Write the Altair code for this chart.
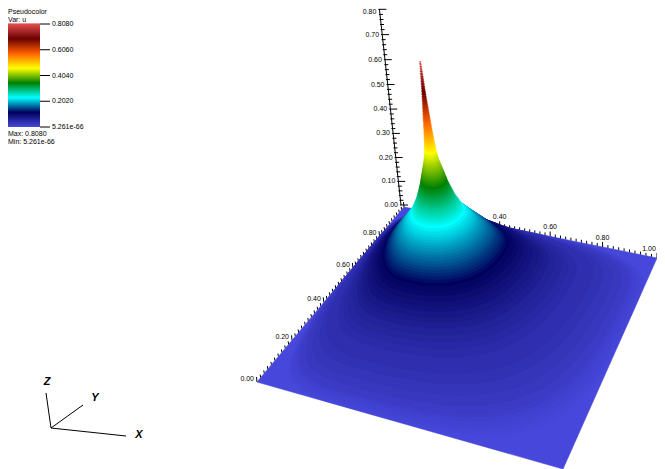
import altair as alt
import numpy as np
import pandas as pd

# Surface contours: value u and its radius r around the peak (plane units)
U_LEVELS = [0.002,0.004,0.006,0.008,0.012,0.016,0.020,0.025,0.030,0.035,0.040,0.045,0.050,0.055,0.060,0.066,0.072,0.078,0.084,0.090,0.096,0.102,0.108,0.115,
 0.121,0.127,0.133,0.139,0.145,0.151,0.157,0.163,0.169,0.175,0.181,0.187,0.193,0.199,0.205,0.211,0.217,0.224,0.231,
 0.238,0.245,0.252,0.259,0.266,0.273,0.280,0.287,0.294,0.301,0.308,0.315,0.322,0.329,0.336,0.346,
 0.353,0.360,0.367,0.374,0.381,0.388,0.395,0.402,0.409,0.416,0.423,0.430,0.437,0.444,0.452,0.462,
 0.467,0.472,0.477,0.482,0.487,0.492,0.497,0.502,0.507,0.512,0.517,0.522,0.527,0.532,0.537,0.542,0.547,0.552,0.557,0.562,0.569,0.577,
 0.583,0.590,0.596,0.603,0.609,0.616,0.622,0.629,0.635,0.642,0.648,0.655,0.661,0.668,0.674,0.681,0.687,0.693,
 0.699,0.706,0.712,0.719,0.725,0.732,0.738,0.745,0.751,0.758,0.764,0.771,0.777,0.784,0.790,0.797,0.802,0.808]
R_LEVELS = [4.5,3.6,3.0,2.6,2.2,2.0,1.85,1.6,1.35,1.15,1.0,0.80,0.72,0.66,0.60,0.55,0.51,0.48,0.44,0.41,0.38,0.35,0.325,0.30,
 0.29,0.277,0.264,0.252,0.24,0.229,0.218,0.207,0.197,0.187,0.177,0.167,0.158,0.150,0.142,0.134,0.126,0.117,0.108,
 0.102,0.098,0.094,0.090,0.085,0.080,0.076,0.073,0.070,0.067,0.064,0.061,0.058,0.056,0.053,0.050,
 0.048,0.046,0.044,0.042,0.040,0.038,0.036,0.034,0.032,0.030,0.028,0.027,0.025,0.024,0.023,0.0215,
 0.021,0.0205,0.020,0.0195,0.019,0.0185,0.018,0.0175,0.0171,0.0168,0.0164,0.016,0.0156,0.0152,0.0148,0.0145,0.0142,0.014,0.0137,0.0135,0.0133,0.013,
 0.0127,0.0122,0.0118,0.0115,0.0112,0.0108,0.0104,0.0100,0.0096,0.0092,0.0088,0.0085,0.0082,0.0078,0.0075,0.0072,0.0069,0.0066,
 0.0064,0.0062,0.006,0.0058,0.0056,0.0054,0.0052,0.005,0.0047,0.0045,0.0042,0.004,0.0037,0.0035,0.0032,0.003,0.0027,0.0025]
PEAK = (0.29, 0.735)

# Colour table
CMAP_U = [0.0, 0.1154, 0.2309, 0.3463, 0.4617, 0.5771, 0.6926, 0.808]
CMAP_C = ["#4747db", "#00005c", "#00ffff", "#008000", "#ffff00", "#ff6100", "#6b0000", "#e04d4d"]

# Axes
PLANE_X = [0, 1, 1, 0]
PLANE_Y = [0, 0, 1, 1]
CORNERS_PX = [(257, 382), (563, 469), (657, 258), (404, 207)]
Y_LABELS = ["0.00", "0.20", "0.40", "0.60", "0.80"]
Y_LABEL_AT = [0.0, 0.2, 0.4, 0.6, 0.8]
X_LABELS = ["0.40", "0.60", "0.80", "1.00"]
X_LABEL_AT = [0.4, 0.6, 0.8, 1.0]
Z_LABELS = ["0.00", "0.10", "0.20", "0.30", "0.40", "0.50", "0.60", "0.70", "0.80"]
Z_LABEL_AT = [0.0, 0.1, 0.2, 0.3, 0.4, 0.5, 0.6, 0.7, 0.8]

LEG_TICKS = ["0.8080", "0.6060", "0.4040", "0.2020", "5.261e-66"]
LEG_TICK_U = [0.808, 0.606, 0.404, 0.202, 0.0]
LEG_TEXT = ["Pseudocolor", "Var: u", "Max: 0.8080", "Min: 5.261e-66"]

# Homography plane -> picture
A = []
for (u_, v_), (px, py) in zip(zip(PLANE_X, PLANE_Y), CORNERS_PX):
    A.append([u_, v_, 1, 0, 0, 0, -u_ * px, -v_ * px, px])
    A.append([0, 0, 0, u_, v_, 1, -u_ * py, -v_ * py, py])
A = np.array(A, float)
h = np.linalg.solve(A[:, :8], A[:, 8])
H = np.append(h, 1).reshape(3, 3)

def plane(x, y):
    w = H[2, 0] * x + H[2, 1] * y + H[2, 2]
    return (H[0, 0] * x + H[0, 1] * y + H[0, 2]) / w, (H[1, 0] * x + H[1, 1] * y + H[1, 2]) / w

def lift(u):
    d = 257 * max(u - 0.03, 0)
    return -0.113 * d, -d

def edge_distance(c, s):
    """Smooth distance from the peak to the plane's border along direction (c, s)."""
    total = 0.0
    if c > 1e-9:
        total += (c / (1 - PEAK[0])) ** 4
    if c < -1e-9:
        total += (-c / PEAK[0]) ** 4
    if s > 1e-9:
        total += (s / (1 - PEAK[1])) ** 4
    if s < -1e-9:
        total += (-s / PEAK[1]) ** 4
    return total ** -0.25

rows = []
for i, (x, y) in enumerate(zip(PLANE_X, PLANE_Y)):
    px, py = plane(x, y)
    rows.append(dict(level=0, u=0.0, idx=i, px=px, py=py))
angles = np.linspace(0, 2 * np.pi, 96, endpoint=False)
for n, (u, r) in enumerate(zip(U_LEVELS, R_LEVELS), start=1):
    dx, dy = lift(u)
    for i, t in enumerate(angles):
        c, s = np.cos(t), np.sin(t)
        D = edge_distance(c, s)
        R = D * (1 - np.exp(-r / D))  # u falls to zero at the plane's border
        px, py = plane(PEAK[0] + R * c, PEAK[1] + R * s)
        rows.append(dict(level=n, u=u, idx=i, px=px + dx, py=py + dy))
surface = pd.DataFrame(rows)

X = alt.X("px:Q", axis=None, scale=alt.Scale(domain=[8, 657], nice=False, zero=False))
Y = alt.Y("py:Q", axis=None, scale=alt.Scale(domain=[8, 469], nice=False, zero=False, reverse=True))
X2 = alt.X2("px2:Q")
Y2 = alt.Y2("py2:Q")
cscale = alt.Scale(domain=CMAP_U, range=CMAP_C, interpolate="rgb")

surf = alt.Chart(surface).mark_line(interpolate="linear-closed", strokeWidth=0.6, fill="#4747db").encode(
    x=X, y=Y, detail="level:O", order="idx:Q",
    fill=alt.Fill("u:Q", scale=cscale, legend=None),
    stroke=alt.Stroke("u:Q", scale=cscale, legend=None),
)

# Ticks
ticks = []
texts = []
for k in range(0, 51):
    v = k / 50
    major = k % 10 == 0
    px, py = plane(0, v)
    ticks.append(dict(px=px, py=py, px2=px - 0.5, py2=py - (5 if major else 3)))
    if k >= 5:
        px, py = plane(v, 1)
        ticks.append(dict(px=px, py=py, px2=px, py2=py - (5 if major else 3)))
for k in range(0, 41):
    z = k * 0.02
    px = 401 - 27 * z
    py = 205 - 235 * z - 12 * z * z
    ticks.append(dict(px=px - 1, py=py, px2=px + (7 if k % 5 == 0 else 3), py2=py))
ticks.append(dict(px=401, py=205, px2=379.4, py2=9.0))
for lab, v in zip(Y_LABELS, Y_LABEL_AT):
    px, py = plane(0, v)
    texts.append(dict(px=px - 3, py=py - 3, t=lab, a="right"))
for lab, v in zip(X_LABELS, X_LABEL_AT):
    px, py = plane(v, 1)
    texts.append(dict(px=min(px, 649), py=py - 9, t=lab, a="center"))
for lab, z in zip(Z_LABELS, Z_LABEL_AT):
    px = 401 - 27 * z
    py = 205 - 235 * z - 12 * z * z
    texts.append(dict(px=px - 3, py=max(py, 12), t=lab, a="right"))

tick_df = pd.DataFrame(ticks)
tick_ch = alt.Chart(tick_df).mark_rule(color="black", strokeWidth=1).encode(x=X, y=Y, x2=X2, y2=Y2)
text_layers = []
for a in ["center", "right"]:
    sub = [t for t in texts if t["a"] == a]
    text_layers.append(alt.Chart(pd.DataFrame(sub)).mark_text(
        font="Liberation Sans", fontSize=7, align=a, baseline="middle", color="black"
    ).encode(x=X, y=Y, text="t:N"))

# Legend (the top-left page margin cannot be drawn on)
LEG_TOP, LEG_BOT = 24, 127
N = 103
cells = []
for i in range(N):
    cells.append(dict(px=8, px2=40,
                      py=LEG_BOT - (LEG_BOT - LEG_TOP) * i / N,
                      py2=LEG_BOT - (LEG_BOT - LEG_TOP) * (i + 1) / N - 0.6,
                      u=0.808 * (i + 0.5) / N))
bar = alt.Chart(pd.DataFrame(cells)).mark_rect(strokeWidth=0).encode(
    x=X, x2=X2, y=Y, y2=Y2, fill=alt.Fill("u:Q", scale=cscale, legend=None))
leg_ticks = []
leg_texts = []
for lab, u in zip(LEG_TICKS, LEG_TICK_U):
    py = LEG_BOT - (LEG_BOT - LEG_TOP) * u / 0.808
    leg_ticks.append(dict(px=40, px2=50, py=py, py2=py))
    leg_texts.append(dict(px=52, py=py, t=lab))
for lab, py in zip(LEG_TEXT, [12, 20, 134, 142]):
    leg_texts.append(dict(px=8, py=py, t=lab))
leg_tick = alt.Chart(pd.DataFrame(leg_ticks)).mark_rule(color="black", strokeWidth=1).encode(x=X, x2=X2, y=Y, y2=Y2)
leg_text = alt.Chart(pd.DataFrame(leg_texts)).mark_text(
    font="Liberation Sans", fontSize=7, align="left", baseline="middle", color="black"
).encode(x=X, y=Y, text="t:N")

# Triad
TRIAD_ENDS = [(126, 436), (83, 405), (46, 393)]
TRIAD_LABELS = ["X", "Y", "Z"]
TRIAD_LABEL_POS = [(139, 435), (95, 398), (47, 382)]
triad = alt.Chart(pd.DataFrame([dict(px=51, py=428, px2=a, py2=b) for a, b in TRIAD_ENDS])).mark_rule(
    color="black", strokeWidth=1).encode(x=X, x2=X2, y=Y, y2=Y2)
triad_t = alt.Chart(pd.DataFrame([dict(px=a, py=b, t=t) for (a, b), t in zip(TRIAD_LABEL_POS, TRIAD_LABELS)])).mark_text(
    font="Liberation Sans", fontSize=11, fontWeight="bold", fontStyle="italic", align="center", baseline="middle", color="black"
).encode(x=X, y=Y, text="t:N")

chart = alt.layer(
    tick_ch, *text_layers, surf, bar, leg_tick, leg_text, triad, triad_t
).properties(
    width=649, height=461, padding=0, background="white", autosize=alt.AutoSizeParams(type="none")
).configure_view(stroke=None)

chart.save("out.html", embed_options={"renderer": "svg", "actions": False})
